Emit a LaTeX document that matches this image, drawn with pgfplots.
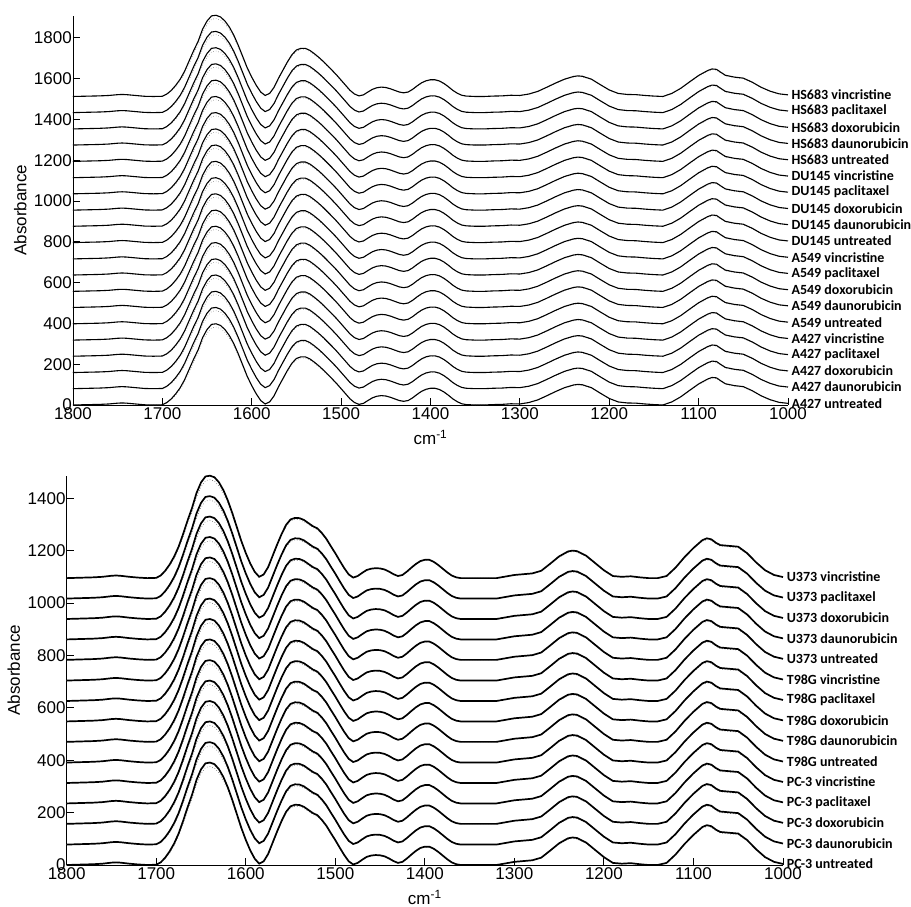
\documentclass[border=0pt]{standalone}
\usepackage{fontspec}
\setmainfont{Liberation Sans}
\newfontfamily\labfont{Carlito}
\usepackage{pgfplots}
\usepackage{pgfplotstable}
\pgfplotsset{compat=1.18}

% base spectrum read off the lowest curve of each panel (t/b), replicate (tr/br)
\pgfplotstableread{
wn    t    tr   b    br
1800  0    0    0    0
1790  1    1    1    1
1780  2    2    2    2
1770  3    3    3    3
1760  5    4    5    5
1750  9    8    9    8
1745  10   9    10   9
1740  9    8    9    8
1730  5    4    5    4
1720  1    1    2    2
1710  0    0    0    0
1700  1    1    1    1
1695  12   10   10   9
1690  30   26   28   24
1685  55   49   52   46
1680  85   77   82   74
1675  125  114  120  110
1670  175  162  168  156
1665  225  210  220  206
1660  270  254  268  252
1655  330  313  325  308
1650  370  352  365  348
1645  395  378  388  372
1640  398  382  391  376
1635  390  375  385  370
1630  370  356  366  352
1625  340  328  336  323
1620  300  290  296  285
1615  250  242  248  239
1610  195  189  195  188
1605  140  136  142  137
1600  95   92   96   93
1595  55   53   56   54
1590  22   21   24   23
1585  5    5    5    5
1580  15   14   14   13
1575  45   43   42   40
1570  90   87   85   82
1565  130  126  128  124
1560  170  165  168  163
1555  205  199  203  197
1550  228  222  224  218
1545  236  230  230  224
1540  236  230  229  223
1535  226  221  222  216
1530  210  205  210  205
1525  192  188  198  193
1520  172  168  190  185
1515  150  147  172  168
1510  128  125  150  146
1505  105  103  122  119
1500  80   78   95   93
1495  55   54   66   64
1490  30   29   38   37
1485  12   12   14   14
1480  3    3    2    2
1475  8    8    8    8
1470  22   21   20   19
1465  35   34   31   30
1460  43   42   36   35
1455  46   45   38   37
1450  44   43   37   36
1445  38   37   33   32
1440  30   29   25   24
1435  22   21   15   14
1430  18   17   8    8
1425  22   21   12   12
1420  35   34   25   24
1415  52   50   40   39
1410  67   65   54   52
1405  77   75   65   63
1400  82   80   70   68
1395  82   80   70   68
1390  76   74   62   60
1385  64   62   50   49
1380  48   47   36   35
1375  30   29   22   21
1370  16   16   10   10
1365  6    6    3    3
1360  2    2    0    0
1350  0    0    0    0
1340  0    0    0    0
1330  2    2    0    0
1320  3    3    0    0
1310  6    6    6    6
1300  5    5    12   12
1290  12   12   15   15
1280  25   24   18   18
1270  45   44   28   27
1260  66   64   55   53
1250  85   83   83   80
1240  98   95   102  98
1235  101  98   105  101
1230  99   96   103  99
1220  85   83   86   83
1210  58   57   58   56
1200  32   31   30   29
1190  15   15   8    8
1180  10   10   5    5
1170  9    9    7    7
1160  5    5    3    3
1150  2    2    0    0
1140  0    0    0    0
1130  15   15   8    8
1120  40   39   40   39
1110  72   70   80   78
1100  103  100  115  112
1090  127  123  145  141
1085  135  131  152  147
1080  133  129  148  144
1075  118  115  135  131
1070  104  101  126  122
1060  95   92   123  119
1050  90   87   120  116
1040  70   68   95   92
1030  45   44   60   58
1020  26   25   30   29
1010  13   12   12   12
1000  8    8    4    4
}\spectra

\newcommand{\topspec}[2]{%
  \addplot[gray,dotted,line width=0.6pt] table[x=wn,y expr=\thisrow{tr}+#1]{\spectra};
  \addplot[black,line width=1.1pt] table[x=wn,y expr=\thisrow{t}+#1]{\spectra}
    node[pos=1,anchor=west,labstyle]{#2};}
\newcommand{\botspec}[2]{%
  \addplot[gray,dotted,line width=0.7pt] table[x=wn,y expr=\thisrow{br}+#1]{\spectra};
  \addplot[black,line width=1.7pt] table[x=wn,y expr=\thisrow{b}+#1]{\spectra}
    node[pos=1,anchor=west,labstyle]{#2};}

\tikzset{labstyle/.style={font=\labfont\bfseries\fontsize{14}{14}\selectfont,inner sep=0pt,xshift=3pt}}

\pgfplotsset{spec/.style={
  scale only axis,
  x dir=reverse,
  xmin=1000, xmax=1800,
  xtick={1000,1100,...,1800},
  axis lines=left,
  axis line style={-,line width=0.9pt},
  tick style={black,line width=0.9pt},
  major tick length=7pt,
  tick align=inside,
  clip=false,
  ymin=0,
  ylabel={Absorbance},
  xlabel={cm\textsuperscript{-1}},
  label style={font=\fontsize{17}{17}\selectfont},
  tick label style={font=\fontsize{17}{17}\selectfont},
  /pgf/number format/assume math mode=true,
  /pgf/number format/set thousands separator={},
  yticklabel style={inner xsep=1pt},
  xticklabel style={inner ysep=2pt},
  ylabel style={at={(axis description cs:0,0.5)},rotate=0,anchor=south,yshift=43pt},
  xlabel style={at={(axis description cs:0.5,0)},yshift=-22pt,anchor=north},
}}

\begin{document}
\begin{tikzpicture}
\useasboundingbox (0pt,0pt) rectangle (911pt,907pt);

\begin{axis}[spec,
  at={(73pt,502pt)}, anchor=south west,
  width=715pt, height=389.3pt,
  ymax=1908,
  ytick={0,200,...,1800},
]
\topspec{0}{A427 untreated}
\topspec{80}{A427 daunorubicin}
\topspec{159}{A427 doxorubicin}
\topspec{239}{A427 paclitaxel}
\topspec{318}{A427 vincristine}
\topspec{398}{A549 untreated}
\topspec{478}{A549 daunorubicin}
\topspec{557}{A549 doxorubicin}
\topspec{637}{A549 paclitaxel}
\topspec{716}{A549 vincristine}
\topspec{796}{DU145 untreated}
\topspec{876}{DU145 daunorubicin}
\topspec{955}{DU145 doxorubicin}
\topspec{1035}{DU145 paclitaxel}
\topspec{1114}{DU145 vincristine}
\topspec{1194}{HS683 untreated}
\topspec{1274}{HS683 daunorubicin}
\topspec{1353}{HS683 doxorubicin}
\topspec{1433}{HS683 paclitaxel}
\topspec{1512}{HS683 vincristine}
\end{axis}

\begin{axis}[spec,
  at={(66.7pt,42pt)}, anchor=south west,
  width=716.3pt, height=389.3pt,
  ymax=1486,
  ytick={0,200,...,1400},
]
\botspec{0}{PC-3 untreated}
\botspec{78}{PC-3 daunorubicin}
\botspec{157}{PC-3 doxorubicin}
\botspec{235}{PC-3 paclitaxel}
\botspec{313}{PC-3 vincristine}
\botspec{391}{T98G untreated}
\botspec{470}{T98G daunorubicin}
\botspec{548}{T98G doxorubicin}
\botspec{626}{T98G paclitaxel}
\botspec{704}{T98G vincristine}
\botspec{783}{U373 untreated}
\botspec{861}{U373 daunorubicin}
\botspec{939}{U373 doxorubicin}
\botspec{1017}{U373 paclitaxel}
\botspec{1095}{U373 vincristine}
\end{axis}
\end{tikzpicture}
\end{document}
